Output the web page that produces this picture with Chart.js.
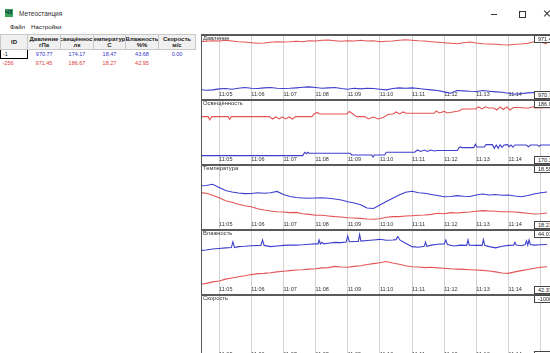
<!DOCTYPE html>
<html>
<head>
<meta charset="utf-8">
<script src="https://cdn.jsdelivr.net/npm/chart.js@4.4.1/dist/chart.umd.min.js"></script>
<style>
  html, body { margin: 0; padding: 0; background: #fff; width: 550px; height: 353px; overflow: hidden;
               font-family: "Liberation Sans", Arial, sans-serif; color: #222; }
  .abs { position: absolute; }
  .txt { white-space: nowrap; line-height: 1; }
  #tabela { position: absolute; left: 0; top: 34px; width: 195px; border-collapse: collapse; table-layout: fixed; }
  #tabela th { background: #f0f0f0; border: 1px solid #c8c8c8; height: 14px; padding: 0; overflow: hidden;
               font-size: 6px; font-weight: bold; line-height: 6.5px; color: #222; }
  #tabela td { height: 8px; padding: 0; font-size: 5.5px; line-height: 8px; text-align: center; overflow: hidden; }
  .h { display: flex; justify-content: center; overflow: hidden; white-space: nowrap; width: 100%; }
  .azul { color: #3434c8; }
  .verm { color: #e03a3a; }
  .borda { position: absolute; left: 201px; width: 360px; height: 2px; background: #5a5a5a; }
  .painel { position: absolute; left: 202px; }
  .rotulo { position: absolute; left: 203px; font-size: 5.8px; color: #333; white-space: nowrap; line-height: 1; }
  .caixa { position: absolute; left: 534px; width: 30px; height: 6px; background: #fff; border: 1px solid #444;
           font-size: 5.5px; line-height: 6px; padding-left: 3px; color: #222; white-space: nowrap; overflow: hidden; }
</style>
</head>
<body>

<!-- barra de título -->
<div class="abs" style="left:5px;top:9px;width:8px;height:8px;background:#3aa35a;"></div>
<div class="abs txt" style="left:5px;top:10px;font-size:5.5px;font-weight:bold;color:#0c2a48;">ЧЗ</div>
<div class="abs txt" style="left:19px;top:11px;font-size:6.5px;color:#333;">Метеостанция</div>
<div class="abs" style="left:491px;top:14px;width:6px;height:1px;background:#333;"></div>
<div class="abs" style="left:519px;top:11px;width:5px;height:5px;border:1px solid #333;"></div>
<div class="abs" style="left:543px;top:13px;width:8px;height:1px;background:#333;transform:rotate(45deg);"></div>
<div class="abs" style="left:543px;top:13px;width:8px;height:1px;background:#333;transform:rotate(-45deg);"></div>

<!-- menu -->
<div class="abs txt" style="left:10px;top:24px;font-size:6.2px;">Файл</div>
<div class="abs txt" style="left:31px;top:24px;font-size:6.2px;">Настройки</div>

<!-- tabela de leituras -->
<table id="tabela">
  <colgroup>
    <col style="width:27px"><col style="width:33px"><col style="width:33px">
    <col style="width:32px"><col style="width:33px"><col style="width:37px">
  </colgroup>
  <tr>
    <th><div class="h"><span>ID</span></div></th>
    <th><div class="h"><span>Давление</span></div><div class="h"><span>гПа</span></div></th>
    <th><div class="h"><span>Освещённость</span></div><div class="h"><span>лк</span></div></th>
    <th><div class="h"><span>Температура</span></div><div class="h"><span>С</span></div></th>
    <th><div class="h"><span>Влажность</span></div><div class="h"><span>%%</span></div></th>
    <th><div class="h"><span>Скорость</span></div><div class="h"><span>м/с</span></div></th>
  </tr>
  <tr id="linha1"></tr>
  <tr id="linha2"></tr>
</table>

<!-- painéis dos gráficos -->
<div class="abs" style="left:201px;top:34px;width:1px;height:330px;background:#5a5a5a;"></div>

<div class="borda" style="top:34px"></div>
<canvas id="cPressao" class="painel" width="352" height="63" style="top:36px"></canvas>
<div class="rotulo" style="top:36px">Давление</div>
<div class="caixa" id="maxPressao" style="top:35px"></div>
<div class="caixa" id="minPressao" style="top:91px"></div>

<div class="borda" style="top:99px"></div>
<canvas id="cLuz" class="painel" width="352" height="63" style="top:101px"></canvas>
<div class="rotulo" style="top:101px">Освещённость</div>
<div class="caixa" id="maxLuz" style="top:100px"></div>
<div class="caixa" id="minLuz" style="top:156px"></div>

<div class="borda" style="top:164px"></div>
<canvas id="cTemp" class="painel" width="352" height="63" style="top:166px"></canvas>
<div class="rotulo" style="top:166px">Температура</div>
<div class="caixa" id="maxTemp" style="top:165px"></div>
<div class="caixa" id="minTemp" style="top:221px"></div>

<div class="borda" style="top:229px"></div>
<canvas id="cUmid" class="painel" width="352" height="63" style="top:231px"></canvas>
<div class="rotulo" style="top:231px">Влажность</div>
<div class="caixa" id="maxUmid" style="top:230px"></div>
<div class="caixa" id="minUmid" style="top:286px"></div>

<div class="borda" style="top:294px"></div>
<canvas id="cVel" class="painel" width="352" height="63" style="top:296px"></canvas>
<div class="rotulo" style="top:296px">Скорость</div>
<div class="caixa" id="maxVel" style="top:295px"></div>
<div class="caixa" id="minVel" style="top:351px"></div>

<script>
// leituras atuais (tabela)
const leituraAzul = { id: '-1',   valores: ['970.77', '174.17', '18.47', '43.68', '0.00'] };
const leituraVerm = { id: '-256', valores: ['971.45', '186.67', '18.27', '42.95', ''] };

// eixo de tempo (minutos depois das 11:00)
const tickMinutos = [5, 6, 7, 8, 9, 10, 11, 12, 13, 14, 15];
const tickRotulos = ['11:05', '11:06', '11:07', '11:08', '11:09', '11:10', '11:11', '11:12', '11:13', '11:14', '11:15'];
const X_MIN = 4.468, X_MAX = 15.298;

const minutos = [4.4, 4.6, 4.8, 5.0, 5.2, 5.4, 5.6, 5.8, 6.0, 6.2, 6.4, 6.6, 6.8, 7.0, 7.2, 7.4, 7.6, 7.8, 8.0, 8.2,
                 8.4, 8.6, 8.8, 9.0, 9.2, 9.4, 9.6, 9.8, 10.0, 10.2, 10.4, 10.6, 10.8, 11.0, 11.2, 11.4, 11.6, 11.8,
                 12.0, 12.2, 12.4, 12.6, 12.8, 13.0, 13.2, 13.4, 13.6, 13.8, 14.0, 14.2, 14.4, 14.6, 14.8, 15.0, 15.2];

// Давление, гПа
const pressaoVerm = [971.440, 971.446, 971.454, 971.450, 971.460, 971.450, 971.440, 971.436, 971.426, 971.418,
                     971.422, 971.432, 971.440, 971.436, 971.440, 971.446, 971.440, 971.454, 971.450, 971.460,
                     971.464, 971.454, 971.446, 971.454, 971.450, 971.460, 971.450, 971.454, 971.440, 971.446,
                     971.450, 971.460, 971.468, 971.460, 971.454, 971.450, 971.440, 971.432, 971.426, 971.418,
                     971.412, 971.426, 971.436, 971.422, 971.412, 971.408, 971.404, 971.398, 971.394, 971.404,
                     971.408, 971.418, 971.440, 971.432, 971.412];
const pressaoAzul = [970.770, 970.760, 970.766, 970.780, 970.784, 970.774, 970.788, 970.798, 970.788, 970.784,
                     970.794, 970.798, 970.788, 970.784, 970.788, 970.794, 970.802, 970.808, 970.798, 970.788,
                     970.794, 970.798, 970.784, 970.774, 970.788, 970.780, 970.788, 970.784, 970.774, 970.766,
                     970.784, 970.794, 970.788, 970.794, 970.784, 970.774, 970.766, 970.756, 970.738, 970.718,
                     970.756, 970.752, 970.746, 970.742, 970.756, 970.746, 970.738, 970.732, 970.718, 970.704,
                     970.714, 970.724, 970.728, 970.724, 970.718];

// Освещённость, лк (degraus: tempos próprios)
const luzVermT = [4.25, 4.66, 4.71, 4.77, 5.28, 5.33, 5.38, 6.56, 6.66, 6.76, 6.87, 6.97, 7.07, 7.18, 7.28, 7.38,
                  7.89, 7.95, 8.05, 8.13, 8.97, 9.05, 9.16, 9.28, 9.53, 9.64, 9.79, 9.95, 10.10, 10.25, 10.41,
                  10.51, 10.61, 10.72, 10.82, 11.69, 11.75, 11.85, 12.00, 12.10, 12.36, 12.46, 12.56, 12.97,
                  13.07, 13.18, 13.28, 13.38, 13.54, 13.64, 13.74, 13.84, 13.95, 14.05, 14.15, 14.36, 14.51,
                  14.62, 14.77, 14.82, 15.13, 15.30];
const luzVerm  = [183.66, 183.66, 182.55, 183.66, 183.66, 182.72, 183.66, 183.66, 182.88, 183.55, 182.88, 183.55,
                  182.88, 183.55, 182.88, 183.66, 183.66, 184.56, 185.06, 184.56, 184.56, 185.40, 184.56, 183.66,
                  183.66, 182.88, 183.55, 182.88, 183.39, 184.39, 184.56, 185.23, 184.56, 185.23, 184.79, 184.79,
                  185.56, 184.89, 185.40, 184.89, 185.40, 185.56, 186.23, 186.23, 186.90, 186.23, 186.95, 186.57,
                  186.57, 185.90, 186.90, 186.07, 186.90, 185.90, 186.74, 186.74, 186.57, 186.57, 186.95, 186.57,
                  186.67, 186.67];
const luzAzulT = [4.25, 7.60, 7.64, 7.67, 7.72, 7.76, 7.80, 9.07, 9.12, 9.75, 9.79, 9.83, 10.15, 10.20, 11.08,
                  11.17, 11.27, 11.38, 11.48, 11.58, 11.69, 11.79, 12.41, 12.46, 12.51, 12.56, 12.92, 12.97, 13.02,
                  13.25, 13.30, 13.50, 13.56, 13.62, 13.68, 13.74, 13.80, 13.86, 13.97, 14.02, 14.08, 14.14, 14.20,
                  14.55, 14.62, 14.68, 14.90, 14.95, 15.00, 15.30];
const luzAzul  = [170.59, 170.59, 171.26, 171.72, 171.26, 171.72, 171.39, 171.39, 170.82, 170.82, 170.15, 170.82,
                  170.82, 171.72, 171.72, 172.49, 171.99, 172.49, 171.99, 172.49, 172.16, 172.33, 172.33, 173.27,
                  173.50, 173.27, 173.27, 174.40, 173.50, 173.50, 174.27, 174.27, 173.06, 174.17, 173.06, 174.27,
                  173.40, 174.17, 174.27, 173.60, 174.17, 173.40, 174.17, 174.17, 173.60, 174.17, 174.17, 173.70,
                  174.17, 174.17];

// Температура, °C
const tempAzul = [18.532, 18.537, 18.548, 18.518, 18.489, 18.475, 18.465, 18.459, 18.460, 18.467,
                  18.462, 18.468, 18.480, 18.451, 18.432, 18.422, 18.418, 18.415, 18.418, 18.420,
                  18.415, 18.408, 18.399, 18.382, 18.370, 18.354, 18.322, 18.318, 18.351, 18.384,
                  18.415, 18.446, 18.472, 18.481, 18.468, 18.462, 18.451, 18.441, 18.429, 18.432,
                  18.440, 18.434, 18.432, 18.446, 18.456, 18.446, 18.451, 18.443, 18.446, 18.437,
                  18.430, 18.441, 18.456, 18.468, 18.475];
const tempVerm = [18.468, 18.462, 18.443, 18.420, 18.392, 18.377, 18.358, 18.344, 18.335, 18.316,
                  18.303, 18.294, 18.287, 18.284, 18.278, 18.281, 18.268, 18.262, 18.253, 18.253,
                  18.246, 18.240, 18.237, 18.230, 18.227, 18.224, 18.218, 18.215, 18.220, 18.234,
                  18.240, 18.240, 18.246, 18.249, 18.253, 18.256, 18.262, 18.272, 18.268, 18.278,
                  18.275, 18.281, 18.284, 18.291, 18.297, 18.294, 18.291, 18.287, 18.287, 18.284,
                  18.278, 18.272, 18.265, 18.268, 18.275];

// Влажность, % (a azul tem picos estreitos: tempos próprios)
const umidAzulT = [4.40, 4.60, 4.80, 5.00, 5.20, 5.38, 5.43, 5.48, 5.60, 5.80, 6.00, 6.30, 6.35, 6.40, 6.60,
                   6.80, 7.00, 7.20, 7.40, 7.60, 7.80, 8.00, 8.08, 8.11, 8.15, 8.20, 8.25, 8.40, 8.60, 8.80,
                   8.95, 9.00, 9.05, 9.25, 9.33, 9.37, 9.41, 9.60, 9.80, 10.00, 10.20, 10.40, 10.50, 10.56, 10.62,
                   10.80, 11.00, 11.20, 11.38, 11.42, 11.46, 11.60, 11.80, 12.00, 12.05, 12.10, 12.30, 12.50,
                   12.70, 12.74, 12.78, 13.00, 13.18, 13.22, 13.26, 13.40, 13.60, 13.80, 14.00, 14.16, 14.20,
                   14.24, 14.40, 14.52, 14.56, 14.60, 14.64, 14.68, 14.80, 15.00, 15.20];
const umidAzul  = [43.48, 43.50, 43.53, 43.55, 43.57, 43.58, 43.77, 43.58, 43.61, 43.62, 43.64, 43.65, 43.83, 43.65,
                   43.61, 43.63, 43.65, 43.66, 43.66, 43.67, 43.69, 43.70, 43.70, 43.83, 43.70, 43.75, 43.70,
                   43.72, 43.75, 43.74, 43.76, 43.96, 43.77, 43.78, 43.78, 44.01, 43.79, 43.81, 43.83, 43.85,
                   43.82, 43.83, 43.84, 43.94, 43.83, 43.72, 43.61, 43.59, 43.62, 43.76, 43.62, 43.66, 43.69,
                   43.70, 43.83, 43.68, 43.63, 43.66, 43.65, 43.83, 43.66, 43.65, 43.65, 43.84, 43.65, 43.61,
                   43.57, 43.62, 43.65, 43.66, 43.75, 43.66, 43.64, 43.68, 43.80, 43.66, 43.83, 43.68, 43.66,
                   43.67, 43.68];
const umidVerm  = [42.37, 42.40, 42.45, 42.48, 42.54, 42.58, 42.62, 42.65, 42.69, 42.72,
                   42.73, 42.75, 42.78, 42.80, 42.82, 42.84, 42.85, 42.87, 42.88, 42.91,
                   42.92, 42.96, 42.94, 42.93, 42.96, 42.98, 43.02, 43.05, 43.08, 43.12,
                   43.07, 43.03, 42.98, 42.95, 42.94, 42.92, 42.93, 42.91, 42.90, 42.88,
                   42.87, 42.86, 42.85, 42.84, 42.83, 42.81, 42.78, 42.74, 42.73, 42.78,
                   42.82, 42.86, 42.90, 42.93, 42.95];

// Скорость, м/с — sem pontos no período
const velT = [];
const velAzul = [];
const velLimites = ['-1000', '-1000'];

const AZUL = 'rgb(62,62,205)';
const VERM = 'rgb(228,84,84)';

// tabela
function preencherLinha(trId, leitura, classe, selecionada) {
  const tr = document.getElementById(trId);
  const idStyle = selecionada ? 'border:1px solid #000;' : '';
  tr.innerHTML = `<td style="text-align:left;padding-left:2px;${idStyle}" class="${selecionada ? '' : classe}">${leitura.id}</td>` +
    leitura.valores.map(v => `<td class="${classe}">${v}</td>`).join('');
}
preencherLinha('linha1', leituraAzul, 'azul', true);
preencherLinha('linha2', leituraVerm, 'verm', false);

// um gráfico por painel
function criarPainel(canvasId, series, yMin, yMax) {
  const ctx = document.getElementById(canvasId).getContext('2d');
  return new Chart(ctx, {
    type: 'line',
    data: {
      datasets: series.map(s => ({
        data: s.t.map((t, i) => ({ x: t, y: s.v[i] })),
        borderColor: s.cor,
        borderWidth: 1.1,
        pointRadius: 0,
        tension: 0,
        fill: false,
        clip: false
      }))
    },
    options: {
      responsive: false,
      animation: false,
      devicePixelRatio: 1,
      events: [],
      layout: { padding: 0, autoPadding: false },
      plugins: { legend: { display: false }, tooltip: { enabled: false } },
      scales: {
        x: {
          type: 'linear',
          min: X_MIN,
          max: X_MAX,
          afterBuildTicks: scale => { scale.ticks = tickMinutos.map(v => ({ value: v })); },
          grid: { color: '#d2d2d2', lineWidth: 1, drawTicks: true, tickLength: 1 },
          border: { display: false },
          ticks: {
            mirror: true, padding: 0, align: 'start', autoSkip: false, maxRotation: 0, minRotation: 0,
            color: '#333', font: { size: 5.5, family: 'Liberation Sans' },
            callback: value => tickRotulos[tickMinutos.indexOf(value)]
          }
        },
        y: { display: false, min: yMin, max: yMax }
      }
    }
  });
}

function limites(listas) {
  const todos = [].concat(...listas);
  return [Math.max(...todos).toFixed(2), Math.min(...todos).toFixed(2)];
}
function caixas(prefixo, vals) {
  document.getElementById('max' + prefixo).textContent = vals[0];
  document.getElementById('min' + prefixo).textContent = vals[1];
}

criarPainel('cPressao', [
  { t: minutos, v: pressaoVerm, cor: VERM },
  { t: minutos, v: pressaoAzul, cor: AZUL }
], 970.652, 971.52);
caixas('Pressao', limites([pressaoVerm, pressaoAzul]));

criarPainel('cLuz', [
  { t: luzVermT, v: luzVerm, cor: VERM },
  { t: luzAzulT, v: luzAzul, cor: AZUL }
], 168.13, 188.9);
caixas('Luz', limites([luzVerm, luzAzul]));

criarPainel('cTemp', [
  { t: minutos, v: tempVerm, cor: VERM },
  { t: minutos, v: tempAzul, cor: AZUL }
], 18.132, 18.722);
caixas('Temp', limites([tempVerm, tempAzul]));

criarPainel('cUmid', [
  { t: minutos, v: umidVerm, cor: VERM },
  { t: umidAzulT, v: umidAzul, cor: AZUL }
], 42.084, 44.124);
caixas('Umid', limites([umidVerm, umidAzul]));

criarPainel('cVel', [
  { t: velT, v: velAzul, cor: AZUL }
], -1000, 1000);
caixas('Vel', velLimites);
</script>
</body>
</html>
